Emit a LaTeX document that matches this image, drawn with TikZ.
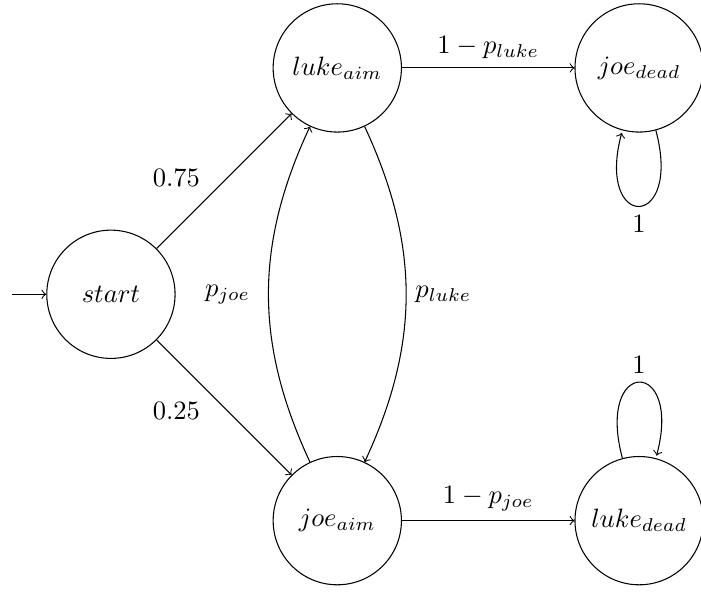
\documentclass[tikz,border=0pt]{standalone}
\usetikzlibrary{automata,positioning}
\begin{document}
\begin{tikzpicture}[
    ->,
    every state/.style={minimum size=1.7cm},
    initial text={},
    lbl/.style={inner sep=0.3333em}
  ]
  \useasboundingbox (-1.47,-3.95) rectangle (7.82,3.90);

  % states
  \node[state,initial] (start)     at (0,0)   {$start$};
  \node[state]         (luke_aim)  at (3,3)   {$luke_{aim}$};
  \node[state]         (joe_aim)   at (3,-3)  {$joe_{aim}$};
  \node[state]         (joe_dead)  at (7,3)   {$joe_{dead}$};
  \node[state]         (luke_dead) at (7,-3)  {$luke_{dead}$};

  % transitions
  \path
    (start)     edge node[lbl,above left,pos=0.39] {$0.75$} (luke_aim)
    (start)     edge node[lbl,below left,pos=0.39] {$0.25$} (joe_aim)
    (luke_aim)  edge node[lbl,above] {$1-p_{luke}$} (joe_dead)
    (joe_aim)   edge node[lbl,above] {$1-p_{joe}$} (luke_dead)
    (luke_aim)  edge[bend left=25] node[lbl,right] {$p_{luke}$} (joe_aim)
    (joe_aim)   edge[bend left=25] node[lbl,left,xshift=-0.12cm] {$p_{joe}$} (luke_aim)
    (joe_dead)  edge[loop below] node[lbl,below] {$1$} ()
    (luke_dead) edge[loop above] node[lbl,above] {$1$} ();
\end{tikzpicture}
\end{document}
